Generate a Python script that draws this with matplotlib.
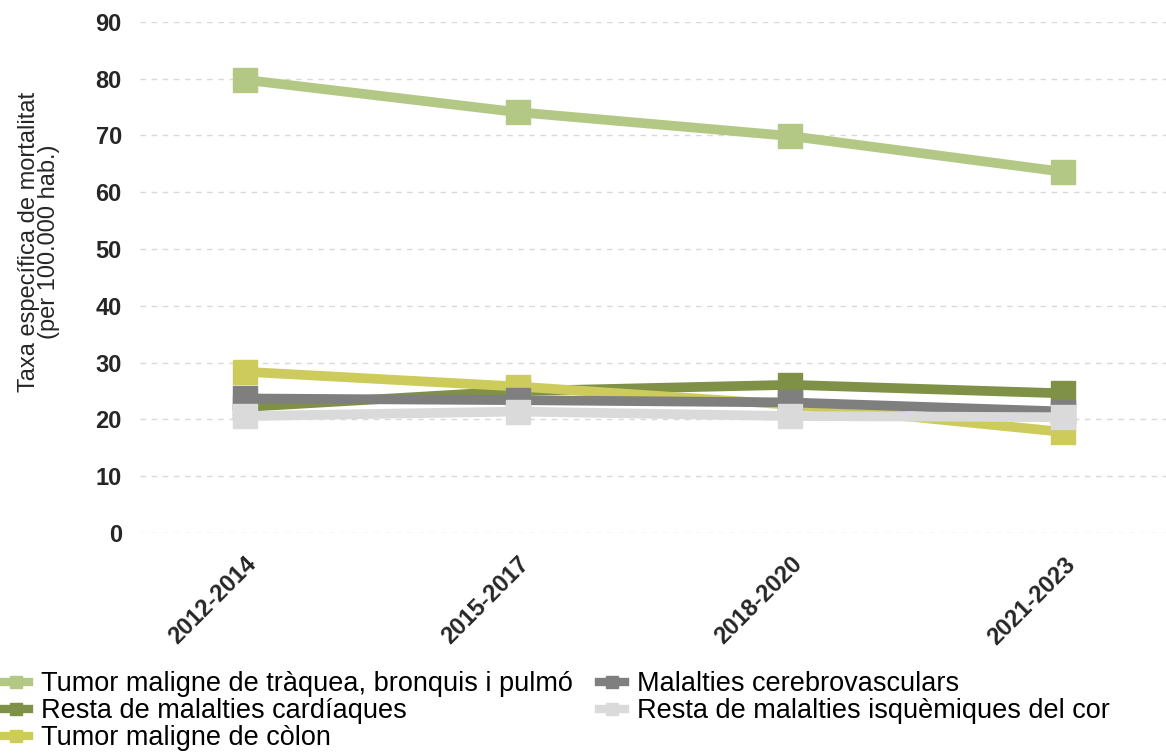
import matplotlib
matplotlib.use("Agg")
import matplotlib.pyplot as plt
from matplotlib.lines import Line2D

periods = ["2012-2014", "2015-2017", "2018-2020", "2021-2023"]

series_names = [
    "Tumor maligne de tràquea, bronquis i pulmó",
    "Resta de malalties cardíaques",
    "Tumor maligne de còlon",
    "Malalties cerebrovasculars",
    "Resta de malalties isquèmiques del cor",
]

pulmo = [79.8, 74.1, 69.9, 63.6]
cardiaques = [22.2, 25.0, 26.1, 24.6]
colon = [28.4, 25.8, 22.6, 17.8]
cerebrovasculars = [23.7, 23.4, 23.0, 21.4]
isquemiques = [20.6, 21.4, 20.6, 20.4]

colors = ["#b4c886", "#7f9047", "#cccb5c", "#7f7f7f", "#dadada"]

yticks = list(range(0, 100, 10))

plt.rcParams["font.family"] = ["Liberation Sans", "DejaVu Sans"]

W, H = 1166, 754
fig = plt.figure(figsize=(W / 100, H / 100), dpi=100)
ax = fig.add_axes([0.12, 0.293, 0.88, 0.678])

x = list(range(len(periods)))
all_series = [pulmo, cardiaques, colon, cerebrovasculars, isquemiques]
# later series are painted over earlier ones
for i, vals in enumerate(all_series):
    ax.plot(x, vals, color=colors[i], lw=7, marker="s", markersize=17,
            solid_capstyle="butt", label=series_names[i], zorder=3 + i)

ax.set_ylim(0, 90)
ax.set_xlim(-0.385, 3.377)
ax.set_yticks(yticks)
ax.set_xticks(x)
ax.set_xticklabels(periods, rotation=45, ha="right", rotation_mode="anchor",
                   fontsize=17, fontweight="bold", color="#262626")
for lab in ax.get_yticklabels():
    lab.set_fontsize(17)
    lab.set_fontweight("bold")
    lab.set_color("#262626")
ax.tick_params(axis="both", length=0)
ax.tick_params(axis="y", pad=13)
ax.tick_params(axis="x", pad=14)
ax.grid(axis="y", color="#d9d9d9", linestyle=(0, (4, 4)), lw=1)
ax.set_axisbelow(True)
for s in ax.spines.values():
    s.set_visible(False)

fig.text(39 / W, 1 - 242 / H, "Taxa específica de mortalitat\n(per 100.000 hab.)",
         rotation=90, ha="center", va="center", multialignment="center",
         fontsize=17, color="#262626", linespacing=0.9)

leg_handles = [Line2D([], [], color=colors[i], lw=6, marker="s", markersize=9)
               for i in range(5)]
fig.legend(leg_handles, series_names, loc="lower left",
           bbox_to_anchor=(-0.018, -0.029),
           ncol=2, frameon=False, handlelength=0.95, handletextpad=0.45,
           columnspacing=0.95, labelspacing=0.04,
           prop={"size": 19.5})

fig.savefig("out.png", dpi=100)
